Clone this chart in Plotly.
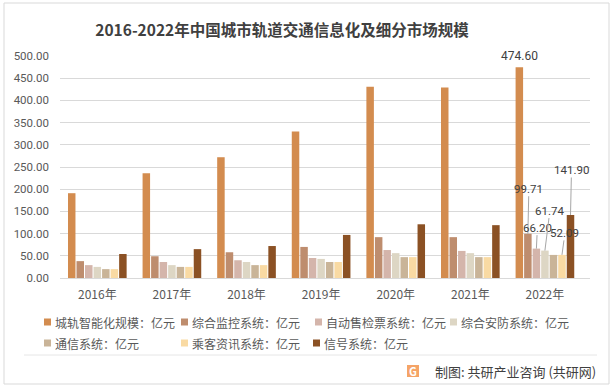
import plotly.graph_objects as go

years = ["2016年", "2017年", "2018年", "2019年", "2020年", "2021年", "2022年"]
series_names = ["城轨智能化规模：亿元", "综合监控系统：亿元", "自动售检票系统：亿元", "综合安防系统：亿元",
                "通信系统：亿元", "乘客资讯系统：亿元", "信号系统：亿元"]
city_rail = [191, 236, 272, 330, 431, 429, 474.60]
monitoring = [38, 49, 58, 70, 92, 92, 99.71]
afc = [29, 36, 40, 45, 63, 61, 66.20]
security = [25, 29, 36, 43, 56, 56, 61.74]
comms = [20, 25, 29, 36, 47, 47, 52.00]
pis = [20, 25, 29, 36, 47, 47, 52.09]
signal = [54, 65, 72, 97, 121, 119, 141.90]
series_values = [city_rail, monitoring, afc, security, comms, pis, signal]
colors = ["#D38C4F", "#BE8D6E", "#D4B5AB", "#DDD6C4", "#C9B498", "#F9DAA3", "#8B5124"]
# labelled 2022 points: series index -> (text dx, text dy) in px
label_offsets = {1: (1, -45), 2: (1, -21), 3: (5, -40), 5: (3, -22), 6: (1, -45)}
# custom legend layout (px): marker left x, row centre y
legend_pos = [(44, 322), (181, 322), (315, 322), (450, 322), (44, 343), (181, 343), (313, 343)]

FONT = "Noto Sans CJK SC"
NUMFONT = "Roboto, Noto Sans CJK SC"
W, H = 614, 387
L, R, T, B = 60, 24, 56, 109
pw, ph = W - L - R, H - T - B

def px(xp):
    return (xp - L) / pw

def py(yp):
    return (H - B - yp) / ph

fig = go.Figure()
for name, vals, col in zip(series_names, series_values, colors):
    fig.add_trace(go.Bar(name=name, x=years, y=vals, marker=dict(color=col, line=dict(width=0)),
                         hoverinfo="x+y+name"))

bargap, groupgap = 0.2, 0.12
n = len(series_values)
slot = (1 - bargap) / n
last = len(years) - 1
annotations = []
shapes = []
# top label for first series
annotations.append(dict(x=last - (1 - bargap) / 2 + slot * 0.5, y=city_rail[-1], xref="x", yref="y",
                        text=f"{city_rail[-1]:.2f}", showarrow=False, yanchor="bottom", yshift=2,
                        font=dict(family=NUMFONT, size=12, color="#404040")))
for i, (dx, dy) in label_offsets.items():
    xc = last - (1 - bargap) / 2 + slot * (i + 0.5)
    annotations.append(dict(x=xc, y=series_values[i][-1], xref="x", yref="y",
                            text=f"{series_values[i][-1]:.2f}", showarrow=True, arrowhead=0,
                            arrowwidth=1, arrowcolor="#A6A6A6", ax=dx, ay=dy, standoff=0,
                            borderpad=0,
                            font=dict(family=NUMFONT, size=11.5, color="#404040")))

# custom legend
for (lx, ly), name, col in zip(legend_pos, series_names, colors):
    shapes.append(dict(type="rect", xref="paper", yref="paper", x0=px(lx), x1=px(lx + 7),
                       y0=py(ly + 3.5), y1=py(ly - 3.5), line=dict(width=0), fillcolor=col))
    annotations.append(dict(x=px(lx + 9), y=py(ly), xref="paper", yref="paper", xanchor="left",
                            yanchor="middle", text=name, showarrow=False,
                            font=dict(family=FONT, size=12, color="#595959")))

# footer
annotations.append(dict(x=px(598), y=py(371), xref="paper", yref="paper", xanchor="right", yanchor="middle",
                        text="制图: 共研产业咨询 (共研网)", showarrow=False,
                        font=dict(family=FONT, size=13, color="#404040")))
annotations.append(dict(x=px(413), y=py(371), xref="paper", yref="paper", xanchor="center", yanchor="middle",
                        text="<b>G</b>", showarrow=False,
                        font=dict(family=FONT, size=11, color="#FFFFFF")))

shapes += [
    dict(type="rect", xref="paper", yref="paper", x0=px(4), x1=px(609), y0=py(384), y1=py(3),
         line=dict(color="#D9D9D9", width=1), fillcolor="rgba(0,0,0,0)", layer="below"),
    dict(type="line", xref="paper", yref="paper", x0=px(24), x1=px(597), y0=py(355), y1=py(355),
         line=dict(color="#E6E6E6", width=1)),
    dict(type="rect", xref="paper", yref="paper", x0=px(407), x1=px(419), y0=py(377), y1=py(365),
         line=dict(width=0), fillcolor="#F5A467", layer="below"),
]

fig.update_layout(
    width=W, height=H,
    margin=dict(l=L, r=R, t=T, b=B, autoexpand=False),
    paper_bgcolor="white", plot_bgcolor="white",
    barmode="group", bargap=bargap, bargroupgap=groupgap,
    title=dict(text="<b>2016-2022年中国城市轨道交通信息化及细分市场规模</b>",
               x=282 / W, xanchor="center", y=1 - 31 / H, yanchor="middle", yref="container",
               font=dict(family=FONT, size=15.5, color="#404040")),
    font=dict(family=FONT, color="#595959"),
    xaxis=dict(showgrid=False, showline=False, ticks="", tickfont=dict(family=FONT, size=12, color="#595959"),
               ticklabelstandoff=8),
    yaxis=dict(range=[0, 500], dtick=50, tickformat=".2f", showgrid=True, gridcolor="#D9D9D9", gridwidth=1,
               zeroline=True, zerolinecolor="#D9D9D9", zerolinewidth=1, showline=False, ticks="",
               tickfont=dict(family=NUMFONT, size=11.5, color="#595959"), ticklabelstandoff=10),
    annotations=annotations, shapes=shapes,
    showlegend=False,
)

fig.write_html("out.html", config={"displayModeBar": False})
with open("out.html", "r", encoding="utf-8") as f:
    html = f.read()
html = html.replace("<head>", "<head><style>html,body{margin:0;padding:0;overflow:hidden;}</style>", 1)
with open("out.html", "w", encoding="utf-8") as f:
    f.write(html)
